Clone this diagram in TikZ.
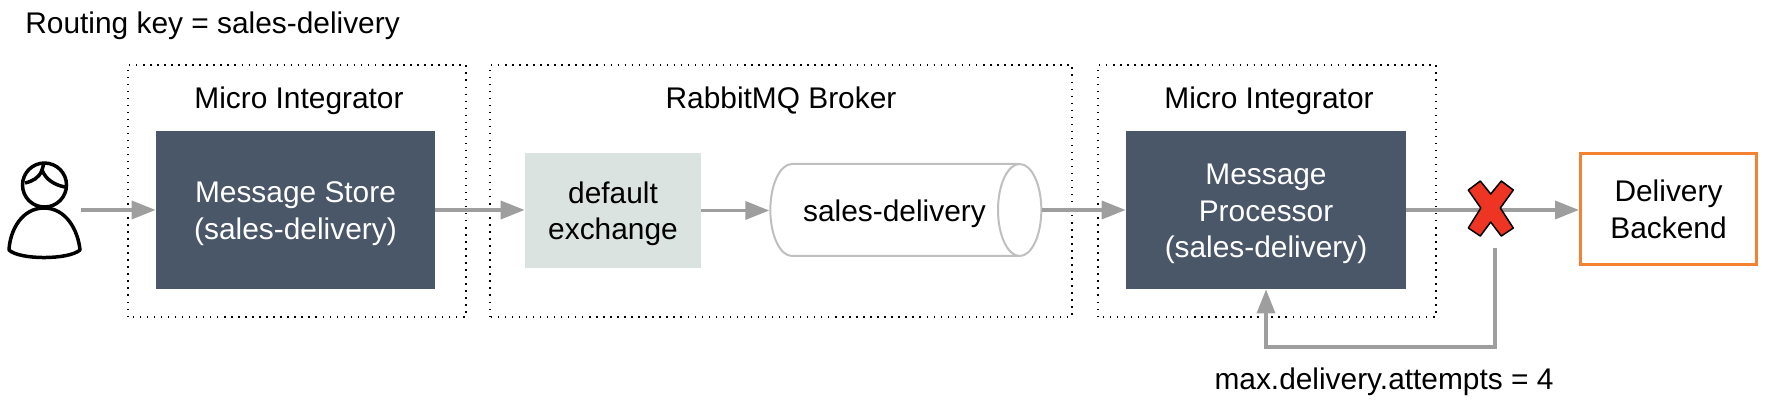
\documentclass[tikz,border=0pt]{standalone}
\usepackage{fontspec}
\setmainfont{Liberation Sans}
\usetikzlibrary{arrows.meta,shapes.geometric}
\definecolor{slatebox}{HTML}{4A5768}
\definecolor{exchangebox}{HTML}{DAE3DF}
\definecolor{flowgray}{HTML}{9E9E9E}
\definecolor{backendorange}{HTML}{F58233}
\definecolor{crossred}{HTML}{EE3524}
\newcommand{\lift}{\rule{0pt}{16.2pt}}
\tikzset{
  frame/.style={draw=black,line width=.8pt,line cap=butt,dash pattern=on .8pt off 3.2pt},
  store/.style={fill=slatebox,text=white,align=center,inner sep=0pt,minimum width=#1,minimum height=3.16cm},
  flow/.style={draw=flowgray,line width=.07cm,-{Triangle[length=.48cm,width=.36cm]}},
  label/.style={inner sep=0pt}
}
\begin{document}
\begin{tikzpicture}[font=\fontsize{17}{20.9}\selectfont]
\useasboundingbox (0,0) rectangle (35.56,8.24);
\node[label,anchor=west] (routing) at (.5,7.72) {Routing key = sales-delivery};
\draw[frame] (2.56,1.9) rectangle (9.32,6.94);
\node[label] (storetitle) at (5.98,6.22) {Micro Integrator};
\draw[frame] (9.8,1.9) rectangle (21.44,6.94);
\node[label] (brokertitle) at (15.62,6.22) {RabbitMQ Broker};
\draw[frame] (21.96,1.9) rectangle (28.72,6.94);
\node[label] (proctitle) at (25.38,6.22) {Micro Integrator};
\node[store=5.58cm] (store) at (5.91,4.04) {\lift Message Store\\(sales-delivery)};
\node[fill=exchangebox,align=center,inner sep=0pt,minimum width=3.52cm,minimum height=2.3cm] (exchange) at (12.26,4.03) {\lift default\\exchange};
\node[cylinder,draw=black!25,line width=.04cm,fill=white,inner sep=0pt,minimum width=1.84cm,minimum height=5.42cm,shape aspect=1.25] (queue) at (17.89,4.04) {\lift sales-delivery};
\node[store=5.6cm] (proc) at (25.32,4.04) {\lift Message\\Processor\\(sales-delivery)};
\node[draw=backendorange,line width=.06cm,align=center,inner sep=0pt,minimum width=3.52cm,minimum height=2.22cm] (backend) at (33.37,4.06) {Delivery\\Backend};
\node[label] (attempts) at (27.68,.6) {max.delivery.attempts = 4};
\coordinate (user) at (1.62,4.04);
\coordinate (retry) at (29.9,3.28);
% user icon
\begin{scope}[shift={(0,8.24)},x=.02cm,y=-.02cm,line width=.07cm,line join=round]
\draw (44.5,185) circle (22);
\draw (25,183) .. controls (33,181) and (39,178) .. (42,170) .. controls (46,180) and (55,185) .. (65,187);
\draw (44,163) -- (42,170);
\draw (44,208) .. controls (22,208) and (10,230) .. (9,250) .. controls (20,260) and (68,260) .. (80,250) .. controls (78,230) and (66,208) .. (44,208) -- cycle;
\end{scope}
\draw[flow] (user) -- (store.west);
\draw[flow] (store.east) -- (exchange.west |- store.east);
\draw[flow] (exchange.east) -- (queue.west |- exchange.east);
\draw[flow] (queue.east |- proc.west) -- (proc.west);
\draw[flow] (proc.east) -- (backend.west |- proc.east);
\draw[flow] (retry) -- ++(0,-1.98) -| (proc.south);
% failed delivery mark
\begin{scope}[shift={(0,8.24)},x=.02cm,y=-.02cm]
\draw[fill=crossred,draw=black,line width=.03cm,line join=round] (1468,190) -- (1480,181) -- (1490.4,194) -- (1501,181) -- (1513,190) -- (1500,208) -- (1513,228) -- (1501,236) -- (1490.4,222) -- (1480,236) -- (1468,228) -- (1480.5,208) -- cycle;
\end{scope}
\end{tikzpicture}
\end{document}
